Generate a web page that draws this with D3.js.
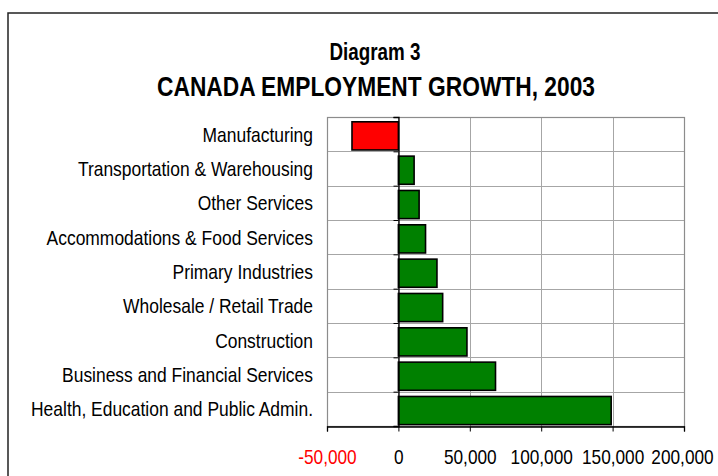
<!DOCTYPE html>
<html>
<head>
<meta charset="utf-8">
<script src="https://cdn.jsdelivr.net/npm/d3@7"></script>
<style>
  html, body { margin: 0; padding: 0; background: #fff; }
  svg { display: block; font-family: "Liberation Sans", Arial, sans-serif; }
</style>
</head>
<body>
<svg id="chart" width="718" height="476"></svg>
<script>
const categories = [
  "Manufacturing",
  "Transportation & Warehousing",
  "Other Services",
  "Accommodations & Food Services",
  "Primary Industries",
  "Wholesale / Retail Trade",
  "Construction",
  "Business and Financial Services",
  "Health, Education and Public Admin."
];
const values = [-32500, 11000, 14500, 19000, 27000, 31000, 48000, 68000, 149000];
const tickValues = [-50000, 0, 50000, 100000, 150000, 200000];
const tickLabels = ["-50,000", "0", "50,000", "100,000", "150,000", "200,000"];
const subtitle = "Diagram 3";
const title = "CANADA EMPLOYMENT GROWTH, 2003";

const svg = d3.select("#chart");
const W = 718, H = 476;
const plot = { left: 327, right: 684, top: 117, bottom: 426 };

// outer frame
svg.append("rect")
  .attr("x", 8).attr("y", 13)
  .attr("width", W + 20).attr("height", H + 20)
  .attr("fill", "#fff").attr("stroke", "#222").attr("stroke-width", 1.5);

const x = d3.scaleLinear().domain([tickValues[0], tickValues[tickValues.length - 1]])
  .range([plot.left, plot.right]);
const y = d3.scaleBand().domain(categories).range([plot.top, plot.bottom]).padding(0);
const yIdx = d3.scaleLinear().domain([0, categories.length]).range([plot.top, plot.bottom]);

// helper to compress text horizontally
function squeeze(sel, factor) {
  sel.each(function () {
    const len = this.getComputedTextLength();
    d3.select(this).attr("textLength", len * factor).attr("lengthAdjust", "spacingAndGlyphs");
  });
}

// titles
svg.append("text").attr("x", 375).attr("y", 60).attr("text-anchor", "middle")
  .attr("font-size", 24).attr("font-weight", "bold").attr("fill", "#000")
  .attr("textLength", 91).attr("lengthAdjust", "spacingAndGlyphs")
  .text(subtitle);
svg.append("text").attr("x", 376).attr("y", 96).attr("text-anchor", "middle")
  .attr("font-size", 28).attr("font-weight", "bold").attr("fill", "#000")
  .attr("textLength", 438).attr("lengthAdjust", "spacingAndGlyphs")
  .text(title);

// gridlines
const grid = svg.append("g").attr("stroke", "#a6a6a6").attr("stroke-width", 1);
grid.selectAll("line.v").data(tickValues).join("line")
  .attr("x1", d => Math.round(x(d)) + 0.5).attr("x2", d => Math.round(x(d)) + 0.5)
  .attr("y1", plot.top).attr("y2", plot.bottom);
grid.selectAll("line.h").data(d3.range(categories.length + 1)).join("line")
  .attr("x1", plot.left).attr("x2", plot.right)
  .attr("y1", d => Math.round(yIdx(d)) + 0.5).attr("y2", d => Math.round(yIdx(d)) + 0.5);
// plot border
svg.append("rect")
  .attr("x", plot.left + 0.5).attr("y", plot.top + 0.5)
  .attr("width", plot.right - plot.left).attr("height", plot.bottom - plot.top)
  .attr("fill", "none").attr("stroke", "#8c8c8c").attr("stroke-width", 1.2);

// bars
const bw = y.bandwidth();
svg.append("g").selectAll("rect").data(categories).join("rect")
  .attr("x", (c, i) => x(Math.min(0, values[i])))
  .attr("width", (c, i) => Math.abs(x(values[i]) - x(0)))
  .attr("y", c => y(c) + bw * 0.14)
  .attr("height", bw * 0.82)
  .attr("fill", (c, i) => values[i] < 0 ? "#ff0000" : "#008000")
  .attr("stroke", "#000").attr("stroke-width", 1.6);

// category axis at zero
const yAxis = d3.axisLeft(yIdx).tickValues(d3.range(categories.length + 1))
  .tickSize(5).tickFormat("");
svg.append("g").attr("transform", `translate(${Math.round(x(0)) + 0.5},0)`)
  .call(yAxis)
  .call(g => g.select(".domain").attr("stroke", "#000").attr("stroke-width", 1.3))
  .call(g => g.selectAll(".tick line").attr("stroke", "#000"));

// value axis
const xAxis = d3.axisBottom(x).tickValues(tickValues).tickSize(5)
  .tickFormat((d, i) => tickLabels[i]).tickPadding(12);
svg.append("g").attr("transform", `translate(0,${plot.bottom + 0.5})`)
  .call(xAxis)
  .call(g => g.select(".domain").attr("stroke", "#000").attr("stroke-width", 1.3))
  .call(g => g.selectAll(".tick line").attr("stroke", "#000"))
  .call(g => g.selectAll(".tick text")
    .attr("font-size", 21).attr("font-family", "Liberation Sans, Arial, sans-serif")
    .attr("dy", null).attr("y", 37)
    .attr("fill", d => d < 0 ? "#ff0000" : "#000")
    .call(squeeze, 0.82))
  .call(g => g.selectAll(".tick:last-of-type text").attr("x", -2));

// category labels
svg.append("g").selectAll("text").data(categories).join("text")
  .attr("x", 313).attr("y", c => y(c) + bw / 2 + 7.5)
  .attr("text-anchor", "end").attr("font-size", 21).attr("fill", "#000")
  .text(c => c)
  .call(squeeze, 0.83);
</script>
</body>
</html>
